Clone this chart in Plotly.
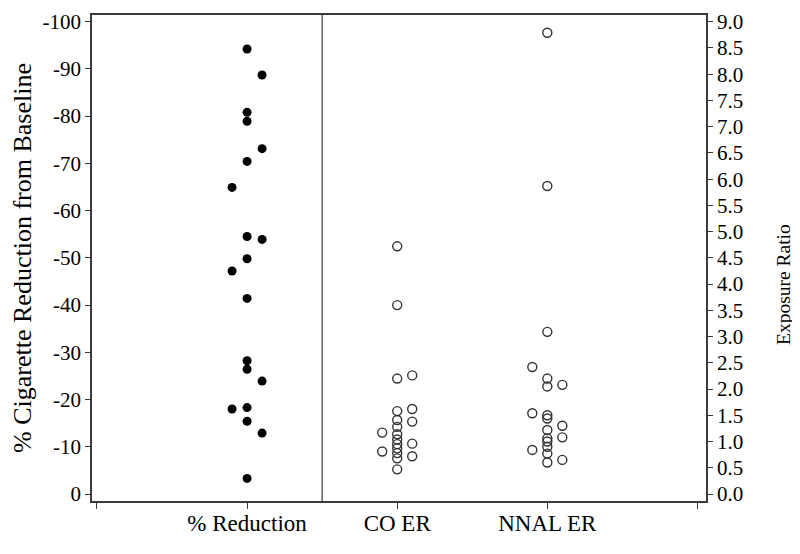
import plotly.graph_objects as go

# ---------------- data ----------------
categories = ["% Reduction", "CO ER", "NNAL ER"]

reduction_pct = [-94.2, -88.7, -80.8, -78.9, -73.1, -70.4, -64.9, -54.5, -53.9, -49.8,
                 -47.2, -41.4, -28.2, -26.4, -23.9, -18.0, -18.3, -15.4, -12.9, -3.3]
reduction_jit = [0, 1, 0, 0, 1, 0, -1, 0, 1, 0,
                 -1, 0, 0, 0, 1, -1, 0, 0, 1, 0]

co_er = [4.72, 3.60, 2.20, 2.26, 1.58, 1.62, 1.41, 1.38, 1.28, 1.17,
         1.14, 1.04, 0.96, 0.95, 0.87, 0.81, 0.78, 0.72, 0.68, 0.47]
co_jit = [0, 0, 0, 1, 0, 1, 0, 1, 0, -1,
          0, 0, 1, 0, 0, -1, 0, 1, 0, 0]

nnal_er = [8.79, 5.87, 3.09, 2.42, 2.20, 2.05, 2.08, 1.54, 1.50, 1.44,
           1.30, 1.22, 1.08, 1.06, 1.00, 0.90, 0.84, 0.77, 0.60, 0.65]
nnal_jit = [0, 0, 0, -1, 0, 0, 1, -1, 0, 0,
            1, 0, 1, 0, 0, 0, -1, 0, 0, 1]

left_ticks = [0, -10, -20, -30, -40, -50, -60, -70, -80, -90, -100]
left_ticktext = ["0", "-10", "-20", "-30", "-40", "-50", "-60", "-70", "-80", "-90", "-100"]
right_ticks = [i * 0.5 for i in range(19)]

left_title = "% Cigarette Reduction from Baseline"
right_title = "Exposure Ratio"

# ---------------- style ----------------
JW = 0.1
FONT = "Liberation Serif"
AX = "#3a3a3a"

def xs(center, jit):
    return [center + JW * j for j in jit]

fig = go.Figure()
fig.add_trace(go.Scatter(
    x=xs(1, reduction_jit), y=reduction_pct, mode="markers",
    marker=dict(symbol="circle", size=9, color="black", line=dict(width=0)),
    showlegend=False, cliponaxis=False))
fig.add_trace(go.Scatter(
    x=xs(2, co_jit), y=co_er, mode="markers", yaxis="y2",
    marker=dict(symbol="circle-open", size=9, color="#333333", line=dict(width=1.4)),
    showlegend=False, cliponaxis=False))
fig.add_trace(go.Scatter(
    x=xs(3, nnal_jit), y=nnal_er, mode="markers", yaxis="y2",
    marker=dict(symbol="circle-open", size=9, color="#333333", line=dict(width=1.4)),
    showlegend=False, cliponaxis=False))

fig.add_shape(type="line", xref="x", yref="paper", x0=1.5, x1=1.5, y0=0, y1=1,
              line=dict(color=AX, width=1.2))

fig.add_annotation(text=right_title, xref="paper", yref="paper",
                   x=1.1254, y=0.4465, xanchor="center", yanchor="middle",
                   textangle=-90, showarrow=False,
                   font=dict(size=19.5, family=FONT, color="black"))

fig.update_layout(
    width=800, height=554,
    margin=dict(l=84, r=102, t=7, b=61),
    paper_bgcolor="white", plot_bgcolor="white",
    font=dict(family=FONT, size=20, color="black"),
    xaxis=dict(
        automargin=False,
        range=[-0.033, 4.057], tickmode="array", tickvals=[0, 1, 2, 3, 4],
        ticktext=[""] + categories + [""],
        showgrid=False, zeroline=False, showline=True, mirror=True,
        linecolor=AX, linewidth=1.5, ticks="outside", ticklen=6, tickwidth=1.3,
        tickcolor=AX, ticklabelstandoff=-5,
        tickfont=dict(size=23, family=FONT, color="black")),
    yaxis=dict(
        automargin=False,
        range=[1.48, -101.4], tickmode="array", tickvals=left_ticks,
        ticktext=left_ticktext, showgrid=False, zeroline=False, showline=True,
        linecolor=AX, linewidth=1.5, ticks="outside", ticklen=5, tickwidth=1.3,
        tickcolor=AX, tickfont=dict(size=21, family=FONT, color="black"),
        title=dict(text=left_title,
                   font=dict(size=26, family=FONT, color="black"), standoff=11)),
    yaxis2=dict(
        automargin=False,
        overlaying="y", side="right",
        range=[-0.133, 9.128], tickmode="array", tickvals=right_ticks,
        tickformat=".1f", showgrid=False, zeroline=False, showline=True,
        linecolor=AX, linewidth=1.5, ticks="outside", ticklen=5, tickwidth=1.3,
        tickcolor=AX, tickfont=dict(size=21, family=FONT, color="black")),
)

fig.write_html("out.html")
